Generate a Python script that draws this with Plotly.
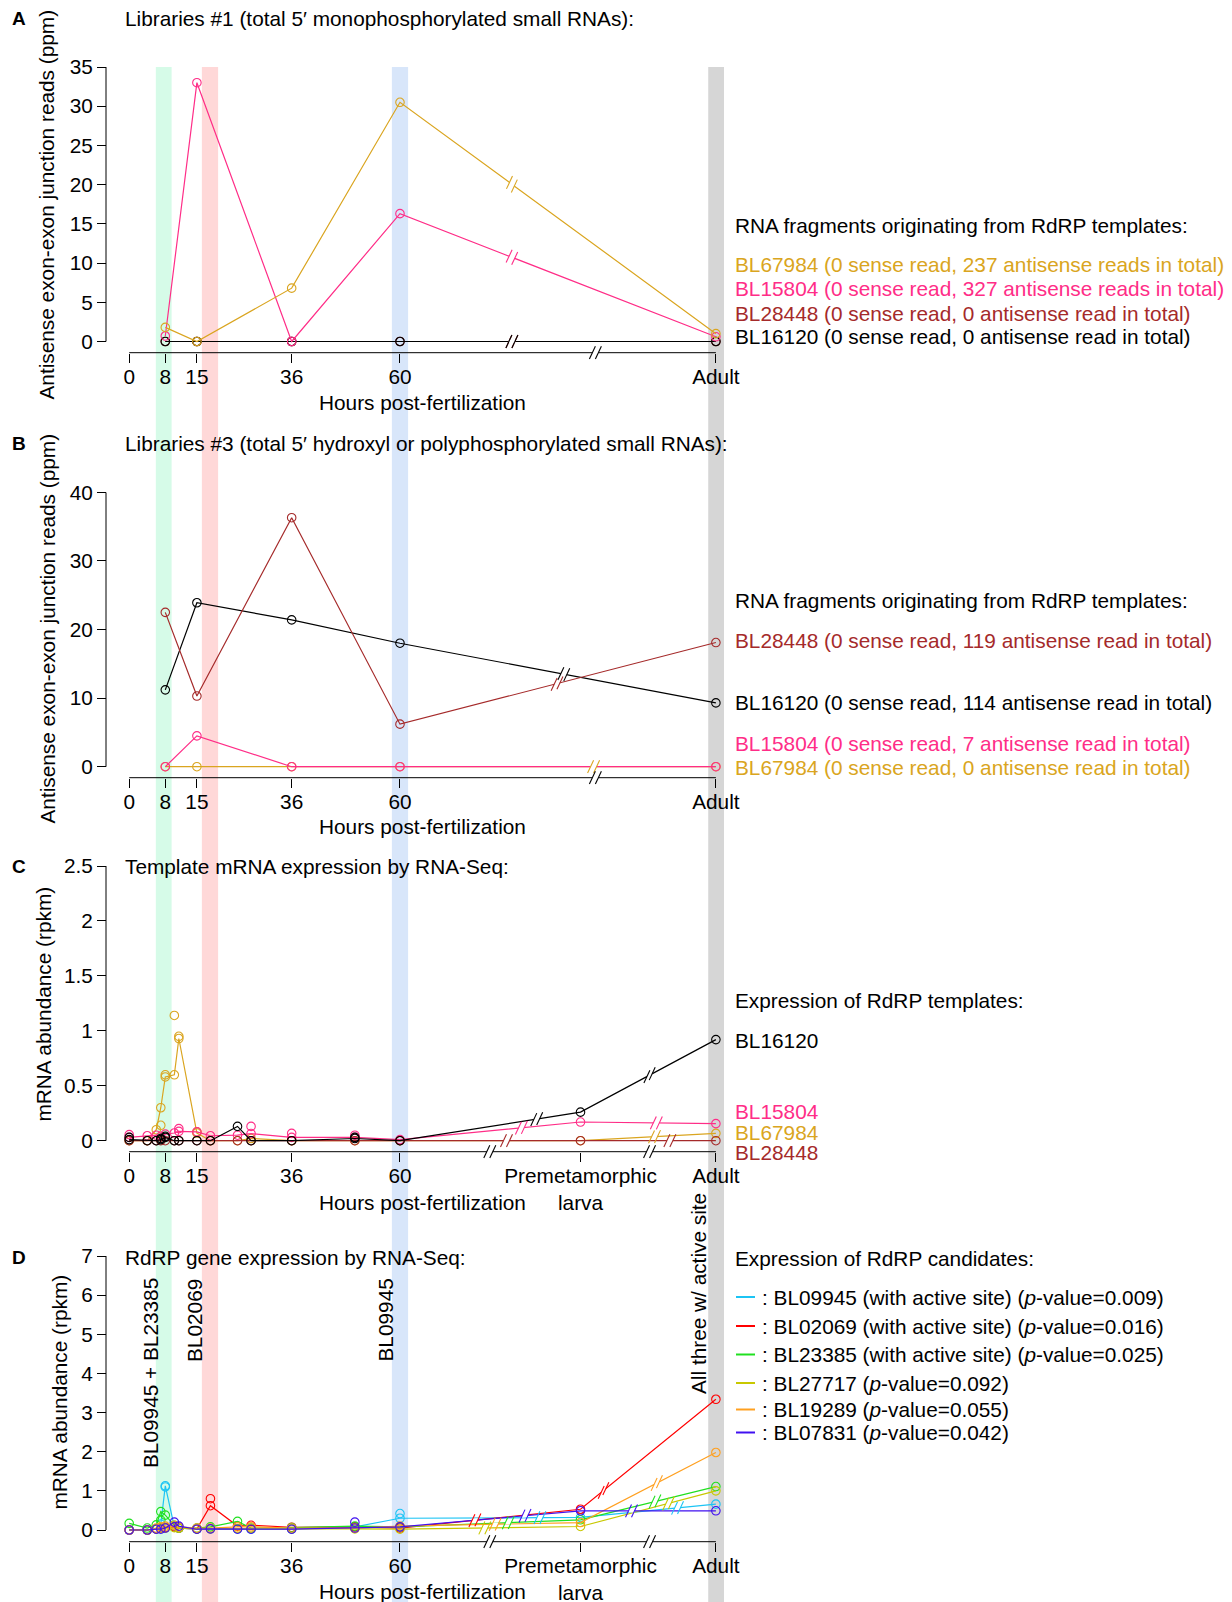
import numpy as np
import plotly.graph_objects as go

# ---------------- data ----------------
hours_AB = [8, 15, 36, 60, 130]
A_BL67984 = [1.8, 0.0, 6.8, 30.5, 1.0]
A_BL15804 = [0.7, 33.0, 0.0, 16.3, 0.6]
A_BL28448 = [0.0, 0.0, 0.0, 0.0, 0.0]
A_BL16120 = [0.0, 0.0, 0.0, 0.0, 0.0]

B_BL28448 = [22.5, 10.3, 36.3, 6.2, 18.1]
B_BL16120 = [11.2, 23.9, 21.4, 18.0, 9.3]
B_BL15804 = [0.0, 4.5, 0.0, 0.0, 0.0]
B_BL67984 = [0.0, 0.0, 0.0, 0.0, 0.0]

hours_CD = [0, 4, 6, 7, 8, 10, 11, 15, 18, 24, 27, 36, 50, 60, 100, 130]
C_BL16120 = [0.01, 0.0, 0.0, 0.01, 0.03, 0.0, 0.0, 0.0, 0.0, 0.13, 0.0, 0.0, 0.02, 0.0, 0.26, 0.92]
C_BL15804 = [0.03, 0.045, 0.05, 0.04, 0.06, 0.07, 0.085, 0.08, 0.045, 0.05, 0.065, 0.03, 0.03, 0.01, 0.17, 0.155]
C_BL67984 = [0.0, 0.0, 0.1, 0.3, 0.58, 0.6, 0.93, 0.07, 0.0, 0.0, 0.02, 0.0, 0.0, 0.0, 0.0, 0.067]
C_BL28448 = [0.0] * 16
C_BL16120_rep_h = [0, 7, 8, 50]
C_BL16120_rep_v = [0.03, 0.02, 0.04, 0.03]
C_BL15804_rep_h = [0, 11, 27, 36, 50]
C_BL15804_rep_v = [0.055, 0.11, 0.13, 0.067, 0.05]
C_BL67984_rep_h = [7, 8, 10, 11, 15]
C_BL67984_rep_v = [0.14, 0.6, 1.14, 0.95, 0.08]

D_BL09945 = [0.0, 0.0, 0.03, 0.15, 1.13, 0.08, 0.05, 0.02, 0.03, 0.03, 0.02, 0.02, 0.08, 0.30, 0.32, 0.66]
D_BL02069 = [0.0, 0.0, 0.03, 0.05, 0.06, 0.08, 0.05, 0.03, 0.62, 0.10, 0.12, 0.07, 0.08, 0.05, 0.53, 3.34]
D_BL23385 = [0.17, 0.05, 0.13, 0.47, 0.38, 0.12, 0.05, 0.05, 0.08, 0.22, 0.05, 0.06, 0.10, 0.08, 0.26, 1.11]
D_BL27717 = [0.0, 0.0, 0.03, 0.05, 0.05, 0.06, 0.05, 0.03, 0.03, 0.04, 0.04, 0.03, 0.03, 0.02, 0.09, 1.00]
D_BL19289 = [0.0, 0.0, 0.05, 0.08, 0.10, 0.12, 0.08, 0.05, 0.05, 0.08, 0.08, 0.05, 0.05, 0.10, 0.19, 1.98]
D_BL07831 = [0.0, 0.0, 0.02, 0.02, 0.05, 0.20, 0.10, 0.02, 0.03, 0.02, 0.02, 0.02, 0.05, 0.08, 0.49, 0.49]
D_BL09945_rep_h = [8, 60]
D_BL09945_rep_v = [1.10, 0.42]
D_BL02069_rep_h = [18]
D_BL02069_rep_v = [0.80]
D_BL23385_rep_h = [7]
D_BL23385_rep_v = [0.25]
D_BL07831_rep_h = [50]
D_BL07831_rep_v = [0.20]

# break marks (hours position along each line)
A_breaks = {"BL67984": [84.8], "BL15804": [84.8], "BL28448": [84.8], "BL16120": [84.8]}
B_breaks = {"BL28448": [94.8], "BL16120": [96.3], "BL67984": [102.9]}
C_breaks = {"BL16120": [90.3, 115.3], "BL15804": [86.9, 116.8], "BL67984": [116.4], "BL28448": [83.6, 119.8]}
D_breaks = {"BL09945": [91.0, 121.5], "BL02069": [76.6, 105.1], "BL23385": [84.0, 116.5],
            "BL27717": [78.8, 119.5], "BL19289": [81.1, 116.9], "BL07831": [87.7, 111.3]}
axis_breaks_AB = [103.3]
axis_breaks_CD = [79.9, 115.3]

ticks_AB = [0, 8, 15, 36, 60, 130]
ticktext_AB = ["0", "8", "15", "36", "60", "Adult"]
ticks_CD = [0, 8, 15, 36, 60, 100, 130]
ticktext_CD = ["0", "8", "15", "36", "60", "Premetamorphic<br>larva", "Adult"]

bands = [(5.9, 9.4, "#D6FBE8"), (16.1, 19.7, "#FFD8D8"), (58.2, 61.8, "#D8E6FA"), (128.3, 131.8, "#D6D6D6")]

# ---------------- styling / layout constants ----------------
OFF = 8.0                      # page body margin compensation
W, H = 1232 - int(OFF), 1602 - int(OFF)
FONT = "Liberation Sans, Arial, sans-serif"
FS = 20.8
X0_PX, KX = 129.2, 4.513
XRANGE = [(OFF - X0_PX) / KX, (W + OFF - X0_PX) / KX]
YAXIS_PX = 106.0

GOLD, PINK, BROWN, BLACK = "#DAA520", "#FF2D87", "#A52A2A", "#000000"
CYAN, RED, GREEN, YG, ORANGE, BLUE = "#1CC4F4", "#FF0000", "#20E020", "#C8C800", "#FFA020", "#4010F0"


def fx(px):
    return (px - OFF) / W


def fy(py):
    return 1 - (py - OFF) / H


panels = [
    dict(name="A", top=67.0, zero=341.5, axis=352.7, ymax=35, yt=list(range(0, 36, 5))),
    dict(name="B", top=492.3, zero=766.7, axis=777.7, ymax=40, yt=[0, 10, 20, 30, 40]),
    dict(name="C", top=866.0, zero=1140.7, axis=1151.7, ymax=2.5, yt=[0, 0.5, 1, 1.5, 2, 2.5]),
    dict(name="D", top=1256.0, zero=1530.0, axis=1541.7, ymax=7, yt=list(range(0, 8))),
]
for p in panels:
    p["ky"] = (p["zero"] - p["top"]) / p["ymax"]
    p["r0"] = -(p["axis"] - p["zero"]) / p["ky"]

fig = go.Figure()
shapes = []
annotations = []

# background bands
for (a, b, col) in bands:
    shapes.append(dict(type="rect", xref="x", yref="paper", x0=a, x1=b, y0=0, y1=fy(67.0),
                       fillcolor=col, line=dict(width=0), layer="below"))


def add_series(i, hours, vals, color, rep_h=None, rep_v=None):
    xa = "x" if i == 0 else f"x{i+1}"
    ya = "y" if i == 0 else f"y{i+1}"
    fig.add_trace(go.Scatter(x=hours, y=vals, mode="lines+markers", xaxis=xa, yaxis=ya,
                             line=dict(color=color, width=1.2),
                             marker=dict(symbol="circle-open", size=8.5, color=color, line=dict(width=1.1)),
                             cliponaxis=False, showlegend=False, hoverinfo="skip"))
    if rep_h:
        fig.add_trace(go.Scatter(x=rep_h, y=rep_v, mode="markers", xaxis=xa, yaxis=ya,
                                 marker=dict(symbol="circle-open", size=8.5, color=color, line=dict(width=1.1)),
                                 cliponaxis=False, showlegend=False, hoverinfo="skip"))


def slash_pair(xref, yref, xa, ya, ux, uy, color):
    g = 3.0
    out = [dict(type="line", xref=xref, yref=yref, xsizemode="pixel", ysizemode="pixel",
                xanchor=xa, yanchor=ya, x0=-g * ux, y0=-g * uy, x1=g * ux, y1=g * uy,
                line=dict(color="white", width=3.4), layer="above")]
    sx, sy = 3.0, 6.4
    for c in (-g, g):
        out.append(dict(type="line", xref=xref, yref=yref, xsizemode="pixel", ysizemode="pixel",
                        xanchor=xa, yanchor=ya,
                        x0=c * ux - sx, y0=c * uy - sy, x1=c * ux + sx, y1=c * uy + sy,
                        line=dict(color=color, width=1.1), layer="above"))
    return out


def add_breaks(i, hours, vals, hs, color):
    p = panels[i]
    xa = "x" if i == 0 else f"x{i+1}"
    ya = "y" if i == 0 else f"y{i+1}"
    hs_arr = np.array(hours, dtype=float)
    vs_arr = np.array(vals, dtype=float)
    for h in hs:
        k = int(np.searchsorted(hs_arr, h)) - 1
        k = max(0, min(k, len(hs_arr) - 2))
        dx = (hs_arr[k + 1] - hs_arr[k]) * KX
        dy = (vs_arr[k + 1] - vs_arr[k]) * p["ky"]
        n = np.hypot(dx, dy)
        v = float(np.interp(h, hs_arr, vs_arr))
        shapes.extend(slash_pair(xa, ya, h, v, dx / n, dy / n, color))


# ---------------- panel A ----------------
add_series(0, hours_AB, A_BL28448, BROWN)
add_series(0, hours_AB, A_BL16120, BLACK)
add_series(0, hours_AB, A_BL15804, PINK)
add_series(0, hours_AB, A_BL67984, GOLD)
for nm, vals, col in [("BL28448", A_BL28448, BROWN), ("BL16120", A_BL16120, BLACK),
                      ("BL15804", A_BL15804, PINK), ("BL67984", A_BL67984, GOLD)]:
    add_breaks(0, hours_AB, vals, A_breaks[nm], col)

# ---------------- panel B ----------------
add_series(1, hours_AB, B_BL67984, GOLD)
add_series(1, hours_AB, B_BL15804, PINK)
add_series(1, hours_AB, B_BL16120, BLACK)
add_series(1, hours_AB, B_BL28448, BROWN)
for nm, vals, col in [("BL67984", B_BL67984, GOLD), ("BL16120", B_BL16120, BLACK), ("BL28448", B_BL28448, BROWN)]:
    add_breaks(1, hours_AB, vals, B_breaks[nm], col)

# ---------------- panel C ----------------
add_series(2, hours_CD, C_BL67984, GOLD, C_BL67984_rep_h, C_BL67984_rep_v)
add_series(2, hours_CD, C_BL15804, PINK, C_BL15804_rep_h, C_BL15804_rep_v)
add_series(2, hours_CD, C_BL28448, BROWN)
add_series(2, hours_CD, C_BL16120, BLACK, C_BL16120_rep_h, C_BL16120_rep_v)
for nm, vals, col in [("BL67984", C_BL67984, GOLD), ("BL15804", C_BL15804, PINK),
                      ("BL28448", C_BL28448, BROWN), ("BL16120", C_BL16120, BLACK)]:
    add_breaks(2, hours_CD, vals, C_breaks[nm], col)

# ---------------- panel D ----------------
D_series = [("BL09945", D_BL09945, CYAN, D_BL09945_rep_h, D_BL09945_rep_v),
            ("BL02069", D_BL02069, RED, D_BL02069_rep_h, D_BL02069_rep_v),
            ("BL23385", D_BL23385, GREEN, D_BL23385_rep_h, D_BL23385_rep_v),
            ("BL27717", D_BL27717, YG, None, None),
            ("BL19289", D_BL19289, ORANGE, None, None),
            ("BL07831", D_BL07831, BLUE, D_BL07831_rep_h, D_BL07831_rep_v)]
for nm, vals, col, rh, rv in D_series:
    add_series(3, hours_CD, vals, col, rh, rv)
for nm, vals, col, rh, rv in D_series:
    add_breaks(3, hours_CD, vals, D_breaks[nm], col)

# ---------------- axes ----------------
layout_axes = {}
for i, p in enumerate(panels):
    sfx = "" if i == 0 else str(i + 1)
    ya = "y" + sfx
    xa = "x" + sfx
    tv = ticks_AB if i < 2 else ticks_CD
    tt = ticktext_AB if i < 2 else ticktext_CD
    layout_axes["xaxis" + sfx] = dict(domain=[0, 1], range=XRANGE, anchor=ya, showline=False,
                                      showgrid=False, zeroline=False, ticks="outside", ticklen=9,
                                      tickwidth=1, tickcolor="black", tickvals=tv, ticktext=tt,
                                      ticklabelstandoff=-4,
                                      tickfont=dict(size=FS, color="black", family=FONT),
                                      automargin=False, fixedrange=True)
    layout_axes["yaxis" + sfx] = dict(domain=[fy(p["axis"]), fy(p["top"])], range=[p["r0"], p["ymax"]],
                                      anchor="free", position=fx(YAXIS_PX), showline=False,
                                      showgrid=False, zeroline=False, ticks="outside", ticklen=9,
                                      tickwidth=1, tickcolor="black", tickvals=p["yt"],
                                      tickfont=dict(size=FS, color="black", family=FONT),
                                      automargin=False, fixedrange=True)
    # x axis line from 0 to Adult
    shapes.append(dict(type="line", xref=xa, yref="paper", x0=0, x1=130, y0=fy(p["axis"]), y1=fy(p["axis"]),
                       line=dict(color="black", width=1), layer="above"))
    # y axis line from 0 to max
    shapes.append(dict(type="line", xref="paper", yref=ya, x0=fx(YAXIS_PX), x1=fx(YAXIS_PX), y0=0, y1=p["ymax"],
                       line=dict(color="black", width=1), layer="above"))
    for h in (axis_breaks_AB if i < 2 else axis_breaks_CD):
        shapes.extend(slash_pair(xa, "paper", h, fy(p["axis"]), 1.0, 0.0, "black"))


def ann(text, xpx, ypx, color="black", xanchor="left", size=FS, angle=0, bold=False):
    if bold:
        text = "<b>" + text + "</b>"
    annotations.append(dict(text=text, x=fx(xpx), y=fy(ypx), xref="paper", yref="paper",
                            xanchor=xanchor, yanchor="middle", showarrow=False, textangle=angle,
                            font=dict(size=size, color=color, family=FONT)))


# panel letters and titles
for letter, ypx, title in [("A", 19.0, "Libraries #1 (total 5\u2032 monophosphorylated small RNAs):"),
                           ("B", 443.0, "Libraries #3 (total 5\u2032 hydroxyl or polyphosphorylated small RNAs):"),
                           ("C", 866.5, "Template mRNA expression by RNA-Seq:"),
                           ("D", 1257.0, "RdRP gene expression by RNA-Seq:")]:
    ann(letter, 18.5, ypx, xanchor="center", size=19, bold=True)
    ann(title, 122.5, ypx)

# axis titles
ylab1 = "Antisense exon-exon junction reads (ppm)"
ylab2 = "mRNA abundance (rpkm)"
ann(ylab1, 46.5, 205.0, xanchor="center", angle=-90)
ann(ylab1, 46.5, 629.0, xanchor="center", angle=-90)
ann(ylab2, 42.5, 1004.0, xanchor="center", angle=-90)
ann(ylab2, 59.0, 1392.5, xanchor="center", angle=-90)
for p, yy in zip(panels, [402.5, 826.0, 1202.0, 1591.0]):
    ann("Hours post-fertilization", X0_PX + 65 * KX, yy, xanchor="center")

# legends (right side)
LX = 732.5
ann("RNA fragments originating from RdRP templates:", LX, 225.0)
ann("BL67984 (0 sense read, 237 antisense reads in total)", LX, 264.5, GOLD)
ann("BL15804 (0 sense read, 327 antisense reads in total)", LX, 288.5, PINK)
ann("BL28448 (0 sense read, 0 antisense read in total)", LX, 313.0, BROWN)
ann("BL16120 (0 sense read, 0 antisense read in total)", LX, 337.0, BLACK)

ann("RNA fragments originating from RdRP templates:", LX, 600.0)
ann("BL28448 (0 sense read, 119 antisense read in total)", LX, 641.0, BROWN)
ann("BL16120 (0 sense read, 114 antisense read in total)", LX, 702.0, BLACK)
ann("BL15804 (0 sense read, 7 antisense read in total)", LX, 743.0, PINK)
ann("BL67984 (0 sense read, 0 antisense read in total)", LX, 767.5, GOLD)

ann("Expression of RdRP templates:", LX, 1000.5)
ann("BL16120", LX, 1040.5, BLACK)
ann("BL15804", LX, 1111.5, PINK)
ann("BL67984", LX, 1132.0, GOLD)
ann("BL28448", LX, 1152.5, BROWN)

ann("Expression of RdRP candidates:", LX, 1258.0)
D_legend = [("BL09945 (with active site) (<i>p</i>-value=0.009)", CYAN),
            ("BL02069 (with active site) (<i>p</i>-value=0.016)", RED),
            ("BL23385 (with active site) (<i>p</i>-value=0.025)", GREEN),
            ("BL27717 (<i>p</i>-value=0.092)", YG),
            ("BL19289 (<i>p</i>-value=0.055)", ORANGE),
            ("BL07831 (<i>p</i>-value=0.042)", BLUE)]
for (txt, col), yy in zip(D_legend, [1297.0, 1326.0, 1354.5, 1383.0, 1409.5, 1432.5]):
    shapes.append(dict(type="line", xref="paper", yref="paper", x0=fx(736), x1=fx(755),
                       y0=fy(yy), y1=fy(yy), line=dict(color=col, width=2)))
    ann(": " + txt, 759.5, yy)

# vertical labels in panel D
ann("BL09945 + BL23385", 150.0, 1373.0, xanchor="center", angle=-90)
ann("BL02069", 194.0, 1320.0, xanchor="center", angle=-90)
ann("BL09945", 384.5, 1320.0, xanchor="center", angle=-90)
ann("All three w/ active site", 698.5, 1293.5, xanchor="center", angle=-90)

fig.update_layout(template="none", width=W, height=H, margin=dict(l=0, r=0, t=0, b=0, pad=0), autosize=False,
                  paper_bgcolor="white", plot_bgcolor="rgba(0,0,0,0)",
                  font=dict(family=FONT, size=FS, color="black"),
                  shapes=shapes, annotations=annotations, showlegend=False, **layout_axes)

fig.write_html("out.html", config={"displayModeBar": False})
